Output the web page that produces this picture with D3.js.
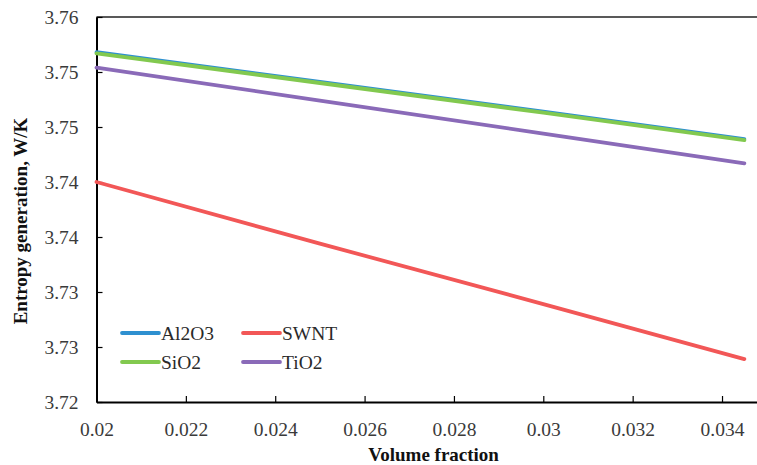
<!DOCTYPE html>
<html>
<head>
<meta charset="utf-8">
<script src="https://cdn.jsdelivr.net/npm/d3@7/dist/d3.min.js"></script>
<style>
  html, body { margin: 0; padding: 0; background: #fff; }
  svg { display: block; }
  svg text { font-family: "Liberation Serif", "Times New Roman", "DejaVu Serif", serif !important; }
</style>
</head>
<body>
<script>
// ---- data ----
const xValues = [0.02, 0.025, 0.03, 0.0345];
const al2o3 = [3.7543, 3.7516, 3.7489, 3.7464];
const swnt  = [3.7425, 3.7369, 3.7314, 3.7264];
const sio2  = [3.7542, 3.7515, 3.7488, 3.7463];
const tio2  = [3.7529, 3.7499, 3.7469, 3.7442];
const seriesNames = ["Al2O3", "SWNT", "SiO2", "TiO2"];
const seriesColors = ["#2E90D0", "#F25757", "#82C94F", "#8A6AB8"];
const xTicks = [0.02, 0.022, 0.024, 0.026, 0.028, 0.03, 0.032, 0.034];
const yTicks = [3.7225, 3.7275, 3.7325, 3.7375, 3.7425, 3.7475, 3.7525, 3.7575];
const xTitle = "Volume fraction";
const yTitle = "Entropy generation, W/K";

const seriesData = [al2o3, swnt, sio2, tio2];

(function () {
const W = 757, H = 465;
const mLeft = 96.5, mTop = 17, mBottom = 402;
const svg = d3.select("body").append("svg").attr("width", W).attr("height", H);

const x = d3.scaleLinear().domain([0.02, 0.035]).range([mLeft, mLeft + 15 * 44.68]);
const y = d3.scaleLinear().domain([3.7225, 3.7575]).range([mBottom, mTop]);

// top border
svg.append("line").attr("x1", mLeft).attr("x2", x(0.035)).attr("y1", mTop).attr("y2", mTop)
  .attr("stroke", "#595959").attr("stroke-width", 2);

// x axis
const xAxis = svg.append("g").attr("transform", `translate(0,${mBottom})`)
  .call(d3.axisBottom(x).tickValues(xTicks).tickSizeInner(-6).tickSizeOuter(0)
    .tickFormat(d => String(+d.toFixed(3))));
xAxis.attr("font-family", null);
xAxis.select(".domain").attr("stroke", "#000").attr("stroke-width", 2);
xAxis.selectAll(".tick line").attr("stroke", "#000").attr("stroke-width", 1.2);
xAxis.selectAll(".tick text").attr("y", 28).attr("dy", "0.32em")
  .attr("font-size", "19.5px").attr("fill", "#3a3a3a");

// y axis
const yAxis = svg.append("g").attr("transform", `translate(${mLeft},0)`)
  .call(d3.axisLeft(y).tickValues(yTicks).tickSizeInner(-6).tickSizeOuter(0)
    .tickFormat(d3.format(".2f")));
yAxis.attr("font-family", null);
yAxis.select(".domain").attr("stroke", "#000").attr("stroke-width", 2);
yAxis.selectAll(".tick line").attr("stroke", "#000").attr("stroke-width", 1.2);
yAxis.selectAll(".tick text").attr("x", -18).attr("dy", "0.32em")
  .attr("font-size", "19.5px").attr("fill", "#3a3a3a");

// lines
const line = d3.line().x((d, i) => x(xValues[i])).y(d => y(d));
seriesData.forEach((s, k) => {
  svg.append("path").datum(s).attr("d", line)
    .attr("fill", "none").attr("stroke", seriesColors[k])
    .attr("stroke-width", 3.8).attr("stroke-linecap", "round");
});

// legend
const legendPos = [[122, 333], [243, 333], [122, 362], [243, 362]];
seriesNames.forEach((n, k) => {
  const [lx, ly] = legendPos[k];
  svg.append("line").attr("x1", lx).attr("x2", lx + 37).attr("y1", ly).attr("y2", ly)
    .attr("stroke", seriesColors[k]).attr("stroke-width", 3.8).attr("stroke-linecap", "round");
  svg.append("text").attr("x", lx + 39).attr("y", ly).attr("dy", "0.35em")
    .attr("font-size", "19.5px").attr("fill", "#2a2a2a").text(n);
});

// titles
svg.append("text").attr("x", (mLeft + x(0.035)) / 2 + 2).attr("y", 461)
  .attr("text-anchor", "middle").attr("font-weight", "bold").attr("font-size", "19px")
  .attr("fill", "#111").text(xTitle);
svg.append("text").attr("transform", "translate(27,221) rotate(-90)")
  .attr("text-anchor", "middle").attr("font-weight", "bold").attr("font-size", "19px")
  .attr("fill", "#111").text(yTitle);
})();
</script>
</body>
</html>
